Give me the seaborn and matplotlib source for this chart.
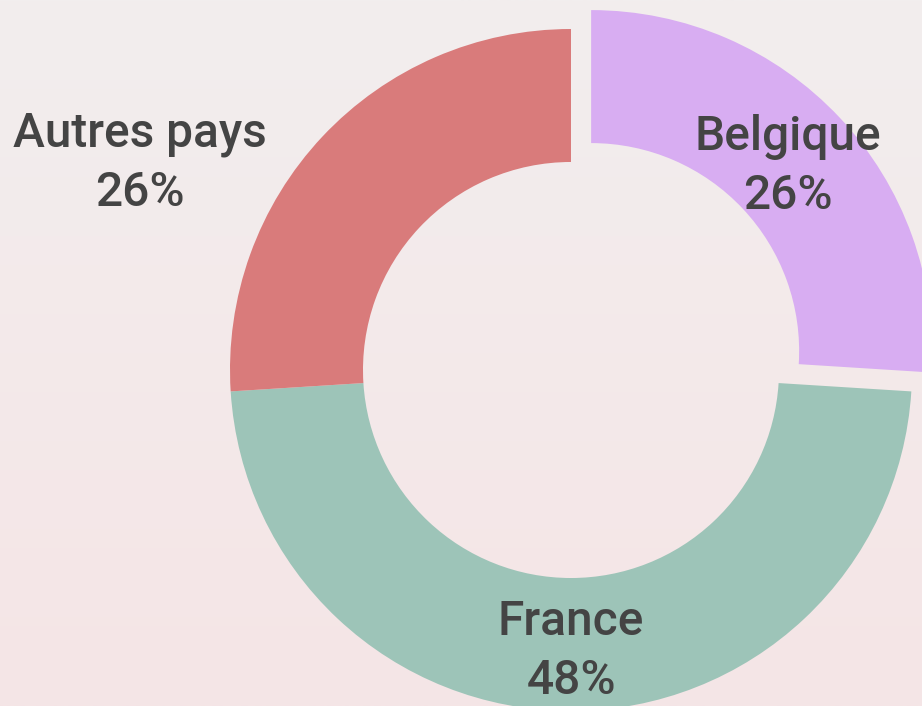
import numpy as np
import matplotlib.pyplot as plt
import seaborn as sns

# data
countries = ['Belgique', 'France', 'Autres pays']
shares = [26, 48, 26]
colors = ['#D8ADF2', '#9DC4B8', '#D97B7B']
explode = [0.081, 0, 0]

sns.set_theme(style='white')
plt.rcParams['font.family'] = ['Roboto', 'DejaVu Sans']

W, H = 922, 706
cx, cy, R = 571, 370, 341   # donut centre / radius in pixels (y from top)

fig = plt.figure(figsize=(W / 100, H / 100), dpi=100)
ax = fig.add_axes([0, 0, 1, 1])

# soft vertical gradient behind the chart
top = np.array([0xF2, 0xEE, 0xEE]) / 255
bot = np.array([0xF5, 0xE5, 0xE6]) / 255
grad = np.linspace(0, 1, 256)[:, None, None]
img = top + (bot - top) * grad
ax.imshow(img, extent=(-cx / R, (W - cx) / R, (cy - H) / R, cy / R),
          aspect='auto', zorder=0)

wedges, _ = ax.pie(shares, colors=colors, explode=explode, startangle=90,
                   counterclock=False, radius=1,
                   wedgeprops=dict(width=0.39, linewidth=0))

# label positions: along the slice middle, except the outer one
label_dist = {'Belgique': 0.79, 'France': 0.825}
custom_pos = {'Autres pays': (-1.264, 0.605)}
for w, name, val in zip(wedges, countries, shares):
    if name in custom_pos:
        x, y = custom_pos[name]
    else:
        t = np.deg2rad((w.theta1 + w.theta2) / 2)
        x = w.center[0] + label_dist[name] * np.cos(t)
        y = w.center[1] + label_dist[name] * np.sin(t)
    ax.text(x, y, f'{name}\n{val}%', ha='center', va='center',
            fontsize=34.5, fontweight='medium', color='#444444',
            linespacing=1.35)

ax.set_xlim(-cx / R, (W - cx) / R)
ax.set_ylim((cy - H) / R, cy / R)
ax.set_aspect('auto')
ax.axis('off')

fig.savefig('out.png', dpi=100)
